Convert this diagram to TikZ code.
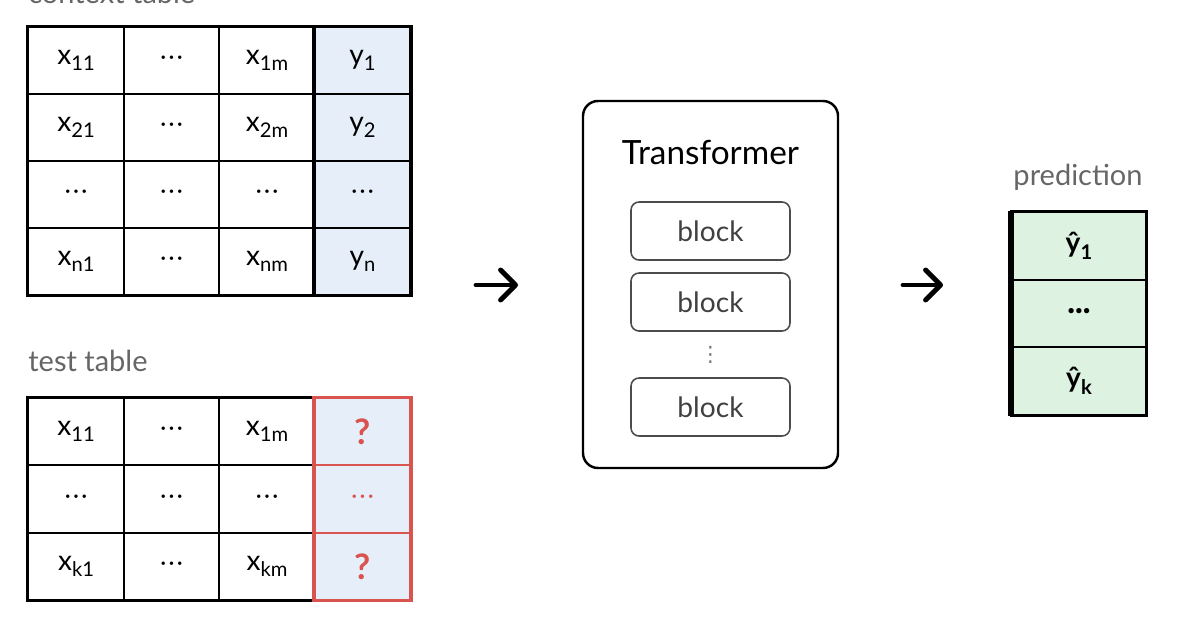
\documentclass[tikz,border=0pt]{standalone}
\usepackage{fontspec}
\setmainfont{Lato}
\newfontfamily\symfont{DejaVu Sans}
\usepackage{tikz}
\usetikzlibrary{arrows.meta}

\definecolor{ctxblue}{HTML}{E6EEFA}
\definecolor{qred}{HTML}{D9534F}
\definecolor{predgreen}{HTML}{DDF2E1}
\definecolor{lblgray}{HTML}{666666}
\newcommand{\lo}[1]{\raisebox{-0.45ex}{\fontsize{11.5}{11.5}\selectfont #1}}
\newcommand{\hdots}{{\fontsize{13}{13}\selectfont\mdseries·\kern1.3pt·\kern1.3pt·}}

\begin{document}
\begin{tikzpicture}[
    cell/.style={draw, line width=1.1pt, minimum width=1.91cm, minimum height=1.34cm, inner sep=0pt, font=\fontsize{16}{16}\selectfont},
    ycell/.style={cell, fill=ctxblue},
    qcell/.style={cell, draw=qred, fill=ctxblue, text=qred, font=\fontsize{20}{20}\selectfont\bfseries},
    pcell/.style={cell, minimum width=2.68cm, minimum height=1.35cm, fill=predgreen, font=\fontsize{16}{16}\selectfont\bfseries},
    blockbox/.style={draw=black!70, line width=0.9pt, rounded corners=0.16cm, minimum width=3.18cm, minimum height=1.16cm, text=black!75, font=\fontsize{16}{16}\selectfont},
    lbl/.style={text=lblgray, inner sep=0pt, font=\fontsize{16.5}{16.5}\selectfont},
    arrowline/.style={line width=2.8pt, line cap=round, -{Straight Barb[length=0.3cm, width=0.6cm, line cap=round, line join=round]}}
  ]
  \useasboundingbox (0,0) rectangle (24,12.6);

  % context table
  \node[lbl, anchor=base west] (ctxlbl) at (0.56,12.54) {context table};
  \node[cell] (c11) at (1.52,11.39) {x\lo{11}};
  \node[cell] (c12) at (3.43,11.39) {\hdots};
  \node[cell] (c13) at (5.34,11.39) {x\lo{1m}};
  \node[ycell] (c14) at (7.25,11.39) {y\lo{1}};
  \node[cell] (c21) at (1.52,10.05) {x\lo{21}};
  \node[cell] (c22) at (3.43,10.05) {\hdots};
  \node[cell] (c23) at (5.34,10.05) {x\lo{2m}};
  \node[ycell] (c24) at (7.25,10.05) {y\lo{2}};
  \node[cell] (c31) at (1.52,8.71) {\hdots};
  \node[cell] (c32) at (3.43,8.71) {\hdots};
  \node[cell] (c33) at (5.34,8.71) {\hdots};
  \node[ycell] (c34) at (7.25,8.71) {\hdots};
  \node[cell] (c41) at (1.52,7.37) {x\lo{n1}};
  \node[cell] (c42) at (3.43,7.37) {\hdots};
  \node[cell] (c43) at (5.34,7.37) {x\lo{nm}};
  \node[ycell] (c44) at (7.25,7.37) {y\lo{n}};
  \draw[line width=1.7pt] (c11.north west) rectangle (c44.south east);
  \draw[line width=2.4pt] (c14.north west) -- (c44.south west);

  % test table
  \node[lbl, anchor=base west] (testlbl) at (0.56,5.17) {test table};
  \node[cell] (t11) at (1.52,3.97) {x\lo{11}};
  \node[cell] (t12) at (3.43,3.97) {\hdots};
  \node[cell] (t13) at (5.34,3.97) {x\lo{1m}};
  \node[qcell] (t14) at (7.25,3.97) {?};
  \node[cell] (t21) at (1.52,2.62) {\hdots};
  \node[cell] (t22) at (3.43,2.62) {\hdots};
  \node[cell] (t23) at (5.34,2.62) {\hdots};
  \node[qcell] (t24) at (7.25,2.62) {\hdots};
  \node[cell] (t31) at (1.52,1.27) {x\lo{k1}};
  \node[cell] (t32) at (3.43,1.27) {\hdots};
  \node[cell] (t33) at (5.34,1.27) {x\lo{km}};
  \node[qcell] (t34) at (7.25,1.27) {?};
  \draw[line width=1.7pt] (t14.north west) -- (t11.north west) -- (t31.south west) -- (t34.south west);
  \draw[qred, line width=1.7pt] (t14.north west) rectangle (t34.south east);

  % transformer
  \node[draw, line width=1.4pt, rounded corners=0.3cm, minimum width=5.1cm, minimum height=7.34cm] (tf) at (14.21,6.91) {};
  \node[font=\fontsize{19}{19}\selectfont] (tftitle) at (14.21,9.56) {Transformer};
  \node[blockbox] (b1) at (14.21,7.98) {block};
  \node[blockbox] (b2) at (14.21,6.56) {block};
  \node[text=black!55, font=\symfont\fontsize{12}{12}\selectfont] (bdots) at (14.21,5.5) {⋮};
  \node[blockbox] (b3) at (14.21,4.46) {block};

  % arrows
  \coordinate (a1s) at (9.52,6.9);
  \coordinate (a1e) at (10.36,6.9);
  \draw[arrowline] (a1s) -- (a1e);
  \coordinate (a2s) at (18.06,6.9);
  \coordinate (a2e) at (18.86,6.9);
  \draw[arrowline] (a2s) -- (a2e);

  % prediction
  \node[lbl, anchor=base] (predlbl) at (21.56,8.9) {prediction};
  \node[pcell] (p1) at (21.58,7.68) {ŷ\lo{1}};
  \node[pcell] (p2) at (21.58,6.33) {···};
  \node[pcell] (p3) at (21.58,4.98) {ŷ\lo{k}};
  \draw[line width=1.3pt] (p1.north west) rectangle (p3.south east);
  \draw[line width=3pt] (p1.north west) -- (p3.south west);
\end{tikzpicture}
\end{document}
